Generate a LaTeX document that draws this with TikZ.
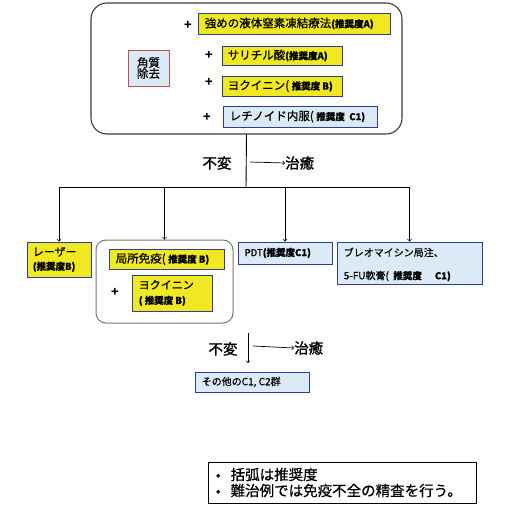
\documentclass[tikz,border=0pt]{standalone}
\usepackage{fontspec}
\setmainfont{Noto Sans CJK JP}
\newfontfamily\medf[FakeBold=0.7]{Noto Sans CJK JP}
\newfontfamily\semif[FakeBold=1.4]{Noto Sans CJK JP}
\definecolor{yel}{RGB}{240,232,32}
\definecolor{lblue}{RGB}{218,234,247}
\definecolor{bblue}{RGB}{48,60,150}
\definecolor{rred}{RGB}{192,80,77}
\definecolor{dgray}{RGB}{60,60,60}
\definecolor{mgray}{RGB}{120,120,120}
\newcommand\rec{\fontsize{9.5}{11}\selectfont\bfseries}
\newcommand\mtx{\fontsize{11.5}{13}\selectfont\medf}
\begin{document}
\begin{tikzpicture}[x=1pt,y=-1pt,
  yb/.style={draw=bblue, fill=yel, line width=0.9pt, inner sep=0pt},
  bb/.style={draw=bblue, fill=lblue, line width=0.9pt, inner sep=0pt},
  lbl/.style={anchor=west, inner sep=0pt, align=left, font=\mtx},
  plus/.style={inner sep=0pt, font=\fontsize{12.5}{13}\selectfont\bfseries},
  big/.style={inner sep=0pt, font=\fontsize{14.5}{16}\selectfont\semif},
  arr/.style={->, line width=0.7pt},
  ln/.style={line width=0.9pt}]
\useasboundingbox (0,0) rectangle (516,508);
% top group
\node[draw=dgray, line width=1.1pt, rounded corners=16pt, minimum width=311pt, minimum height=131pt] (top) at (246.5,68.5) {};
\node[yb, minimum width=192pt, minimum height=21pt] (b1) at (294,23.5) {};
\node[lbl] (t1) at ([xshift=7pt]b1.west) {強めの液体窒素凍結療法{\rec(推奨度A)}};
\node[plus] (p1) at (188,25) {+};
\node[yb, minimum width=120pt, minimum height=19pt] (b2) at (282,55.5) {};
\node[lbl] (t2) at ([xshift=6pt]b2.west) {サリチル酸{\rec(推奨度A)}};
\node[plus] (p2) at (209,55) {+};
\node[yb, minimum width=120pt, minimum height=20pt] (b3) at (282,86) {};
\node[lbl] (t3) at ([xshift=6pt]b3.west) {ヨクイニン( {\rec 推奨度 B)}};
\node[plus] (p3) at (209,82) {+};
\node[bb, minimum width=154pt, minimum height=21pt] (b4) at (300,116.5) {};
\node[lbl] (t4) at ([xshift=7pt]b4.west) {レチノイド内服( {\rec 推奨度\ \ C1)}};
\node[plus] (p4) at (207,117) {+};
\node[draw=rred, fill=lblue, line width=0.9pt, minimum width=41pt, minimum height=36pt, inner sep=0pt, align=center, font=\mtx] (kaku) at (148.5,68) {角質\\[-2pt]除去};
% first result
\coordinate (j) at (246,187);
\draw[ln] (top.south) -- (j);
\node[big] (fu1) at (217,163) {不変};
\coordinate (s1) at (250,162);
\node[big, anchor=west] (ch1) at (285,163) {治癒};
\draw[arr] (s1) -- (ch1.west);
% second row
\node[yb, minimum width=64pt, minimum height=35pt] (laser) at (59,259.5) {};
\node[lbl, font=\fontsize{11}{14}\selectfont\medf] (tl) at ([xshift=6pt]laser.west) {レーザー\\{\rec(推奨度B)}};
\node[draw=mgray, line width=1pt, rounded corners=10pt, minimum width=137pt, minimum height=83pt] (grp) at (164.5,281.5) {};
\node[yb, minimum width=115pt, minimum height=20pt] (kyo) at (166.5,259) {};
\node[lbl] (tk) at ([xshift=7pt]kyo.west) {局所免疫( {\rec 推奨度 B)}};
\node[yb, minimum width=80pt, minimum height=36pt] (yk) at (172,293) {};
\node[lbl, font=\fontsize{11}{15}\selectfont\medf] (ty) at ([xshift=7pt]yk.west) {ヨクイニン\\{\rec( 推奨度 B)}};
\node[plus] (p5) at (115,292) {+};
\node[bb, minimum width=94pt, minimum height=22pt] (pdt) at (285,253) {};
\node[lbl, font=\fontsize{9.5}{11}\selectfont\medf] (tp) at ([xshift=7pt]pdt.west) {PDT{\rec(推奨度C1)}};
\node[bb, minimum width=145pt, minimum height=42pt] (bleo) at (409.5,263) {};
\node[lbl, font=\fontsize{10}{23}\selectfont\medf] (tb) at ([xshift=7pt,yshift=-1.5pt]bleo.west) {ブレオマイシン局注、\\5-FU軟膏(\ \ {\rec 推奨度\ \ \ \ \ \ C1)}};
\draw[arr] (j) -| (laser.north);
\draw[arr] (j) -| (grp.north);
\draw[arr] (j) -| (pdt.north);
\draw[arr] (j) -| (bleo.north);
% second result
\coordinate (d1) at (248,333);
\coordinate (d2) at (248,363);
\draw[arr] (d1) -- (d2);
\node[big] (fu2) at (223,349) {不変};
\coordinate (s2) at (253,346);
\node[big, anchor=west] (ch2) at (294,348) {治癒};
\draw[arr] (s2) -- (ch2.west);
\node[bb, minimum width=114pt, minimum height=20pt] (sono) at (252,382) {};
\node[lbl, font=\fontsize{10}{11}\selectfont\medf] (ts) at ([xshift=7pt]sono.west) {その他のC1, C2群};
% note
\node[draw=black, fill=white, line width=0.9pt, minimum width=268pt, minimum height=41pt] (note) at (342,482.5) {};
\node[anchor=west, align=left, inner sep=0pt, font=\fontsize{14.5}{18}\selectfont\medf] (nt) at ([xshift=8pt]note.west) {•\hspace{10pt}括弧は推奨度\\[-2pt]•\hspace{10pt}難治例では免疫不全の精査を行う。};
\end{tikzpicture}
\end{document}
